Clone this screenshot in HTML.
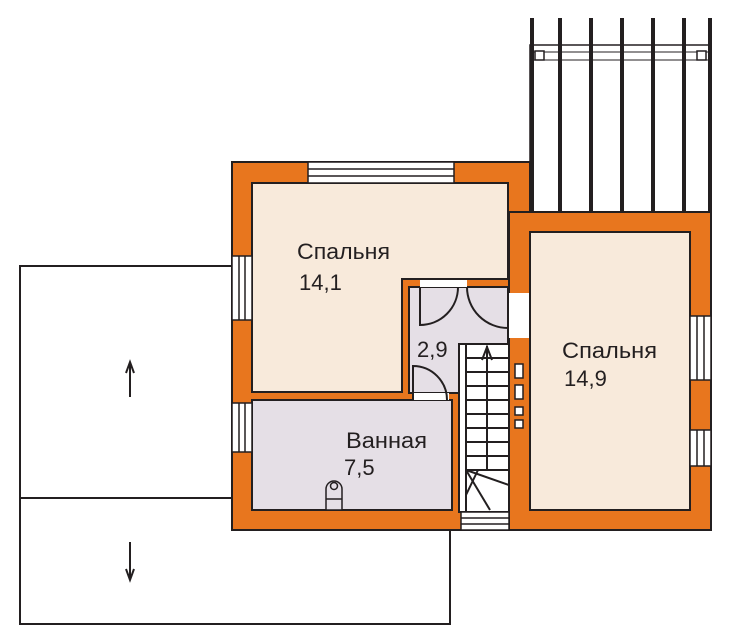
<!DOCTYPE html>
<html><head><meta charset="utf-8"><style>
html,body{margin:0;padding:0;background:#fff;}
svg{display:block;}
text{font-family:"Liberation Sans",sans-serif;fill:#231f20;}
</style></head><body>
<svg width="731" height="642" viewBox="0 0 731 642" xmlns="http://www.w3.org/2000/svg">
<g fill="none" stroke="#231f20" stroke-width="2">
<polyline points="232,266 20,266 20,498 232,498"/>
<polyline points="20,498 20,624 450,624 450,530"/>
</g>
<g stroke="#231f20" stroke-width="2" fill="none">
<line x1="130" y1="397" x2="130" y2="364"/><polyline points="126,373 130,362 134,373"/>
<line x1="130" y1="542" x2="130" y2="578"/><polyline points="126,569 130,580 134,569"/>
</g>
<g stroke="#231f20" fill="none">
<rect x="530" y="45" width="181" height="167" stroke-width="1.5" fill="#fff"/>
<line x1="530" y1="52" x2="711" y2="52" stroke-width="1"/>
<line x1="530" y1="60" x2="711" y2="60" stroke-width="1"/>
<g stroke-width="4">
<line x1="532" y1="18" x2="532" y2="212"/>
<line x1="560" y1="18" x2="560" y2="212"/>
<line x1="591" y1="18" x2="591" y2="212"/>
<line x1="622" y1="18" x2="622" y2="212"/>
<line x1="653" y1="18" x2="653" y2="212"/>
<line x1="684" y1="18" x2="684" y2="212"/>
<line x1="710" y1="18" x2="710" y2="212"/>
</g>
<rect x="535" y="51" width="9" height="9" fill="#fff" stroke-width="1.5"/>
<rect x="697" y="51" width="9" height="9" fill="#fff" stroke-width="1.5"/>
</g>
<g fill="#e8761e" stroke="#231f20" stroke-width="2">
<rect x="232" y="162" width="298" height="368"/>
<rect x="509" y="212" width="202" height="318"/>
</g>
<rect x="510" y="213" width="20" height="20" fill="#e8761e"/>
<g stroke="#231f20" stroke-width="2">
<polygon points="252,183 508,183 508,279 402,279 402,392 252,392" fill="#f8eadb"/>
<rect x="530" y="232" width="160" height="278" fill="#f8eadb"/>
<rect x="252" y="400" width="200" height="110" fill="#e5dfe6"/>
<rect x="409" y="287" width="99" height="106" fill="#e5dfe6"/>
</g>
<g fill="#fff" stroke="#231f20" stroke-width="1.5">
<rect x="308" y="162" width="146" height="21"/>
<line x1="308" y1="169" x2="454" y2="169"/><line x1="308" y1="176" x2="454" y2="176"/>
<rect x="232" y="256" width="20" height="64"/>
<line x1="239" y1="256" x2="239" y2="320"/><line x1="245" y1="256" x2="245" y2="320"/>
<rect x="232" y="403" width="20" height="49"/>
<line x1="239" y1="403" x2="239" y2="452"/><line x1="245" y1="403" x2="245" y2="452"/>
<rect x="690" y="316" width="21" height="64"/>
<line x1="697" y1="316" x2="697" y2="380"/><line x1="704" y1="316" x2="704" y2="380"/>
<rect x="690" y="430" width="21" height="36"/>
<line x1="697" y1="430" x2="697" y2="466"/><line x1="704" y1="430" x2="704" y2="466"/>
</g>
<g fill="#fff" stroke="none">
<rect x="420" y="280" width="47" height="7"/>
<rect x="509" y="293" width="20" height="45"/>
<rect x="413" y="393" width="36" height="7"/>
</g>
<g fill="none" stroke="#231f20" stroke-width="2">
<path d="M420,287 L420,325 A38,38 0 0 0 458,287"/>
<path d="M467,287 A41,41 0 0 0 508,328"/>
<path d="M413,400 L413,366 A34,34 0 0 1 447,400"/>
</g>
<g stroke="#231f20" fill="#fff">
<rect x="459" y="344" width="50" height="168" stroke-width="2"/>
<line x1="466" y1="344" x2="466" y2="512" stroke-width="2"/>
<rect x="461" y="512" width="48" height="18" stroke-width="1.5"/>
<line x1="461" y1="518" x2="509" y2="518" stroke-width="1.5"/>
<line x1="461" y1="524" x2="509" y2="524" stroke-width="1.5"/>
<g stroke-width="2">
<line x1="466" y1="358" x2="509" y2="358"/><line x1="466" y1="372" x2="509" y2="372"/>
<line x1="466" y1="386" x2="509" y2="386"/><line x1="466" y1="400" x2="509" y2="400"/>
<line x1="466" y1="414" x2="509" y2="414"/><line x1="466" y1="428" x2="509" y2="428"/>
<line x1="466" y1="442" x2="509" y2="442"/><line x1="466" y1="456" x2="509" y2="456"/>
<line x1="466" y1="470" x2="509" y2="470"/>
<line x1="487" y1="346" x2="487" y2="470"/>
<line x1="466" y1="470" x2="509" y2="485"/>
<line x1="466" y1="470" x2="490" y2="510"/>
<line x1="478" y1="470" x2="466" y2="495"/>
<polyline points="482,360 487,347 492,360" fill="none"/>
</g>
</g>
<g fill="#fff" stroke="#231f20" stroke-width="1.5">
<rect x="515" y="364" width="8" height="14"/>
<rect x="515" y="385" width="8" height="14"/>
<rect x="515" y="407" width="8" height="8"/>
<rect x="515" y="420" width="8" height="8"/>
</g>
<g fill="#e5dfe6" stroke="#231f20" stroke-width="1.5">
<path d="M326,510 L326,489 A8,8 0 0 1 342,489 L342,510 Z"/>
<circle cx="334" cy="486" r="3.5"/>
<line x1="326" y1="499" x2="342" y2="499"/>
</g>
<g font-size="22">
<text x="297" y="259" textLength="93" lengthAdjust="spacingAndGlyphs">Спальня</text>
<text x="299" y="290">14,1</text>
<text x="562" y="358" textLength="95" lengthAdjust="spacingAndGlyphs">Спальня</text>
<text x="564" y="386">14,9</text>
<text x="346" y="448" textLength="81" lengthAdjust="spacingAndGlyphs">Ванная</text>
<text x="344" y="475">7,5</text>
<text x="417" y="357">2,9</text>
</g>
</svg>
</body></html>
